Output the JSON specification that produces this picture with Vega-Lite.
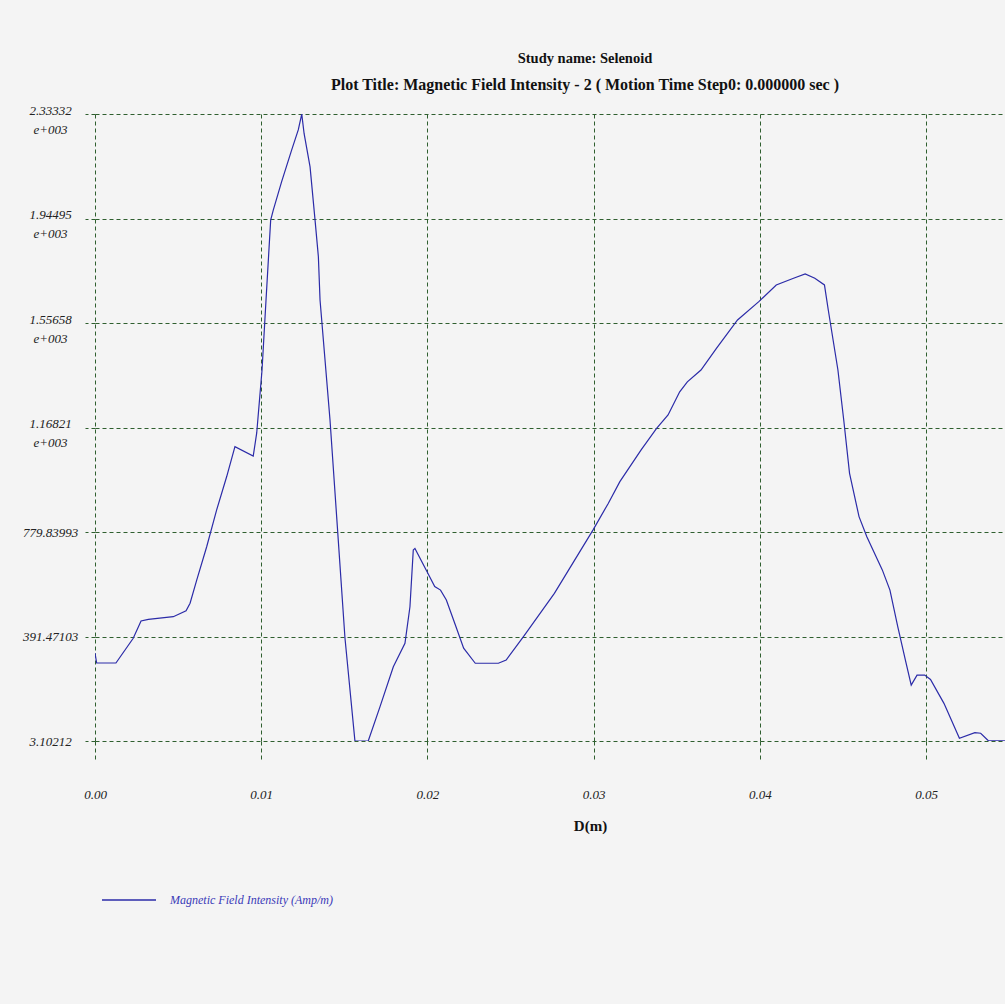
{
  "$schema": "https://vega.github.io/schema/vega-lite/v6.json",
  "autosize": {"type": "none"},
  "width": 910,
  "height": 627,
  "padding": {"left": 95, "top": 114, "right": 0, "bottom": 263},
  "background": "#f4f4f4",
  "title": {
    "text": "Study name: Selenoid",
    "subtitle": "Plot Title: Magnetic Field Intensity - 2 ( Motion Time Step0: 0.000000 sec )",
    "anchor": "middle",
    "frame": "group",
    "dx": 35,
    "offset": 10,
    "font": "Liberation Serif",
    "fontSize": 14.5,
    "fontWeight": "bold",
    "color": "#111111",
    "subtitleFont": "Liberation Serif",
    "subtitleFontSize": 16,
    "subtitleFontWeight": "bold",
    "subtitleColor": "#111111",
    "subtitlePadding": 11
  },
  "data": {
    "values": [
      {"d": 0.0, "h": 330},
      {"d": 0.0001, "h": 293},
      {"d": 0.00126, "h": 293},
      {"d": 0.0023, "h": 385},
      {"d": 0.00277, "h": 449},
      {"d": 0.00321, "h": 455},
      {"d": 0.00471, "h": 465},
      {"d": 0.00548, "h": 487},
      {"d": 0.00572, "h": 515},
      {"d": 0.00612, "h": 601},
      {"d": 0.00672, "h": 725},
      {"d": 0.00732, "h": 862},
      {"d": 0.00792, "h": 985},
      {"d": 0.00842, "h": 1097},
      {"d": 0.00952, "h": 1062},
      {"d": 0.00973, "h": 1148},
      {"d": 0.01005, "h": 1382},
      {"d": 0.01029, "h": 1642},
      {"d": 0.01057, "h": 1939},
      {"d": 0.01073, "h": 1977},
      {"d": 0.01123, "h": 2082},
      {"d": 0.01183, "h": 2199},
      {"d": 0.01223, "h": 2274},
      {"d": 0.01244, "h": 2333},
      {"d": 0.01258, "h": 2261},
      {"d": 0.01294, "h": 2137},
      {"d": 0.01324, "h": 1939},
      {"d": 0.01344, "h": 1803},
      {"d": 0.01354, "h": 1642},
      {"d": 0.01414, "h": 1196},
      {"d": 0.01454, "h": 837},
      {"d": 0.01504, "h": 386},
      {"d": 0.01564, "h": 3.1},
      {"d": 0.01644, "h": 3.1},
      {"d": 0.01715, "h": 131},
      {"d": 0.01795, "h": 279},
      {"d": 0.01865, "h": 366},
      {"d": 0.01895, "h": 502},
      {"d": 0.01915, "h": 713},
      {"d": 0.01925, "h": 719},
      {"d": 0.01998, "h": 632},
      {"d": 0.02044, "h": 577},
      {"d": 0.02079, "h": 564},
      {"d": 0.02114, "h": 527},
      {"d": 0.02172, "h": 428},
      {"d": 0.02218, "h": 348},
      {"d": 0.02288, "h": 292},
      {"d": 0.02427, "h": 292},
      {"d": 0.02474, "h": 304},
      {"d": 0.02578, "h": 391},
      {"d": 0.02764, "h": 552},
      {"d": 0.02996, "h": 787},
      {"d": 0.03088, "h": 886},
      {"d": 0.03158, "h": 967},
      {"d": 0.03286, "h": 1085},
      {"d": 0.03379, "h": 1165},
      {"d": 0.03448, "h": 1215},
      {"d": 0.03518, "h": 1301},
      {"d": 0.03564, "h": 1338},
      {"d": 0.03646, "h": 1382},
      {"d": 0.03739, "h": 1462},
      {"d": 0.03866, "h": 1568},
      {"d": 0.03994, "h": 1636},
      {"d": 0.04099, "h": 1698},
      {"d": 0.04203, "h": 1723},
      {"d": 0.04273, "h": 1739},
      {"d": 0.04331, "h": 1723},
      {"d": 0.04389, "h": 1698},
      {"d": 0.04412, "h": 1605},
      {"d": 0.0447, "h": 1382},
      {"d": 0.04505, "h": 1196},
      {"d": 0.0454, "h": 998},
      {"d": 0.04597, "h": 837},
      {"d": 0.04644, "h": 762},
      {"d": 0.04737, "h": 639},
      {"d": 0.04783, "h": 564},
      {"d": 0.0483, "h": 428},
      {"d": 0.04876, "h": 304},
      {"d": 0.04911, "h": 211},
      {"d": 0.04946, "h": 248},
      {"d": 0.04992, "h": 248},
      {"d": 0.05027, "h": 232},
      {"d": 0.05108, "h": 143},
      {"d": 0.05201, "h": 13},
      {"d": 0.05294, "h": 34},
      {"d": 0.05329, "h": 32},
      {"d": 0.05375, "h": 4},
      {"d": 0.05475, "h": 4}
    ]
  },
  "mark": {"type": "line", "strokeWidth": 1.2, "interpolate": "linear", "clip": true},
  "encoding": {
    "x": {
      "field": "d",
      "type": "quantitative",
      "scale": {"domain": [0, 0.054753], "nice": false, "zero": false},
      "axis": {
        "values": [0, 0.01, 0.02, 0.03, 0.04, 0.05],
        "format": ".2f",
        "title": "D(m)",
        "titleFont": "Liberation Serif",
        "titleFontSize": 15,
        "titleFontWeight": "bold",
        "titleColor": "#111111",
        "titleX": 495,
        "titleY": 84,
        "titleBaseline": "middle",
        "titleAlign": "center",
        "domain": false,
        "grid": true,
        "gridColor": "#2f5f2f",
        "gridDash": [4, 3],
        "gridWidth": 1,
        "ticks": true,
        "tickSize": 18,
        "tickColor": "#2f5f2f",
        "tickDash": [4, 3],
        "labelFont": "Liberation Serif",
        "labelFontStyle": "italic",
        "labelFontSize": 13,
        "labelColor": "#222222",
        "labelBaseline": "middle",
        "labelPadding": 35,
        "labelFlush": false
      }
    },
    "y": {
      "field": "h",
      "type": "quantitative",
      "scale": {"domain": [3.10212, 2333.32], "nice": false, "zero": false},
      "axis": {
        "values": [3.10212, 391.47103, 779.83993, 1168.21, 1556.58, 1944.95, 2333.32],
        "labelExpr": "datum.value > 1000 ? [format(datum.value / 1000, '.5f'), 'e+003'] : format(datum.value, '.5f')",
        "title": null,
        "domain": false,
        "grid": true,
        "gridColor": "#2f5f2f",
        "gridDash": [4, 3],
        "gridWidth": 1,
        "ticks": true,
        "tickSize": 10,
        "tickColor": "#2f5f2f",
        "tickDash": [4, 3],
        "labelFont": "Liberation Serif",
        "labelFontStyle": "italic",
        "labelFontSize": 13,
        "labelColor": "#222222",
        "labelAlign": "center",
        "labelBaseline": {"condition": {"test": "datum.value > 1000", "value": "alphabetic"}, "value": "middle"},
        "labelLineHeight": 19,
        "labelPadding": 35,
        "labelFlush": false
      }
    },
    "color": {
      "datum": "Magnetic Field Intensity (Amp/m)",
      "scale": {"range": ["#2b2ba8"]},
      "legend": {
        "orient": "none",
        "legendX": 6,
        "legendY": 758,
        "title": null,
        "padding": 0,
        "symbolType": "stroke",
        "symbolSize": 2916,
        "symbolStrokeWidth": 1.5,
        "labelFont": "Liberation Serif",
        "labelFontStyle": "italic",
        "labelFontSize": 12,
        "labelColor": "#3a3ab8",
        "labelOffset": 13,
        "labelLimit": 400
      }
    }
  },
  "config": {
    "view": {"stroke": null}
  }
}
